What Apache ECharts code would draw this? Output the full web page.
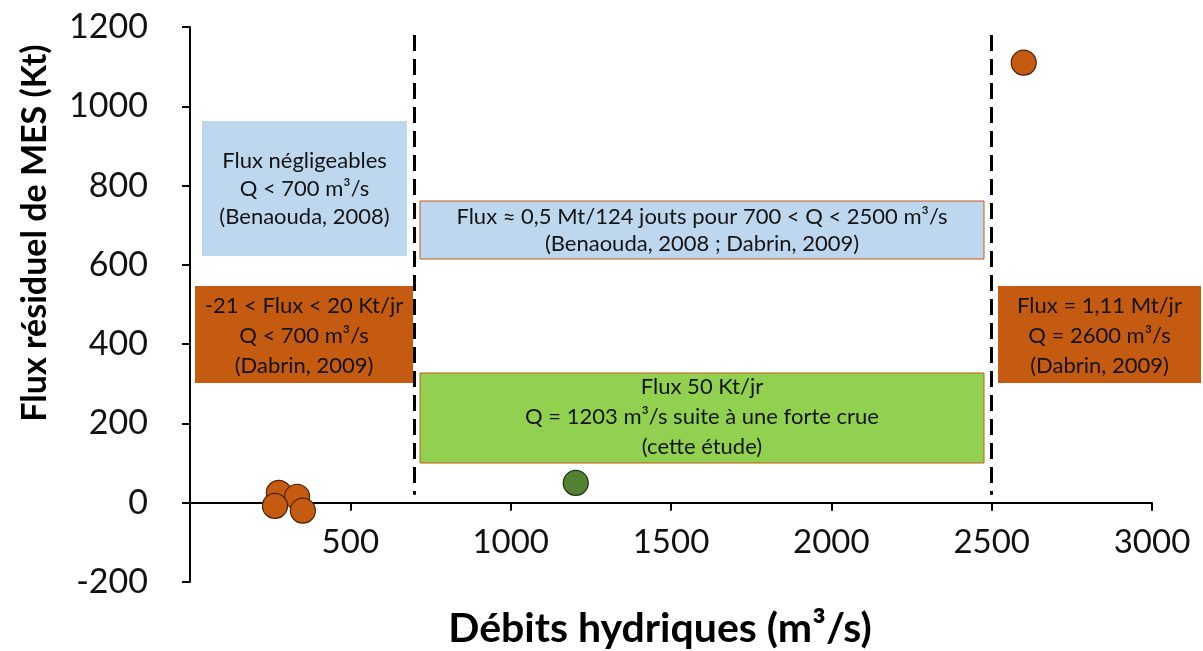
<!DOCTYPE html>
<html>
<head>
<meta charset="utf-8">
<script src="https://cdn.jsdelivr.net/npm/echarts@6/dist/echarts.min.js"></script>
<style>
	html, body { margin: 0; padding: 0; background: #fff; }
	#chart { width: 1203px; height: 651px; }
</style>
</head>
<body>
<div id="chart"></div>
<script>
// points: [débit m3/s, flux Kt]
var dabrinPoints = [[277, 25], [334, 15], [265, -8], [352, -20], [2600, 1110]]
var etudePoints = [[1203, 50]]
var thresholds = [700, 2500]
var yTicks = [-200, 0, 200, 400, 600, 800, 1000, 1200]

var FONT = 'Lato, "Open Sans", sans-serif'

function box(x, y, w, h, fill, stroke, lines, cy, lh) {
	return [
		{
			type: 'rect',
			shape: { x: x, y: y, width: w, height: h },
			style: { fill: fill, stroke: stroke || null, lineWidth: stroke ? 1 : 0 },
			z: 5,
		},
		{
			type: 'text',
			x: x + w / 2,
			y: cy,
			style: {
				text: lines.join('\n'),
				align: 'center',
				verticalAlign: 'middle',
				font: '22px ' + FONT,
				lineHeight: lh,
				fill: '#141414',
			},
			z: 6,
		},
	]
}

function drawChart() {
	var chartDom = document.getElementById('chart')
	var myChart = echarts.init(chartDom)
	var option

	var graphics = [].concat(
		box(202, 121, 205, 135, '#bdd7ee', null,
			['Flux négligeables', 'Q < 700 m³/s', '(Benaouda, 2008)'], 189, 28),
		box(195, 286, 218, 97, '#c55a11', null,
			['-21 < Flux < 20 Kt/jr', 'Q < 700 m³/s', '(Dabrin, 2009)'], 336, 30),
		box(420, 201, 564, 58, '#bdd7ee', '#c55a11',
			['Flux ≈ 0,5 Mt/124 jouts pour 700 < Q < 2500 m³/s', '(Benaouda, 2008 ; Dabrin, 2009)'], 230, 27),
		box(420, 373, 564, 90, '#92d050', '#c55a11',
			['Flux 50 Kt/jr', 'Q = 1203 m³/s suite à une forte crue', '(cette étude)'], 417, 30),
		box(998, 286, 203, 97, '#c55a11', null,
			['Flux = 1,11 Mt/jr', 'Q = 2600 m³/s', '(Dabrin, 2009)'], 336, 30),
		[
			{
				type: 'text',
				x: 35,
				y: 233,
				rotation: Math.PI / 2,
				style: {
					text: 'Flux résiduel de MES (Kt)',
					align: 'center',
					verticalAlign: 'middle',
					font: 'bold 34px ' + FONT,
					fill: '#000',
				},
			},
		]
	)

	option = {
		backgroundColor: '#fff',
		animation: false,
		grid: { left: 190, right: 51, top: 27, bottom: 69, outerBoundsMode: 'none' },
		xAxis: {
			type: 'value',
			min: 0,
			max: 3000,
			interval: 500,
			name: 'Débits hydriques (m³/s)',
			nameLocation: 'middle',
			nameGap: 26,
			nameTextStyle: {
				fontFamily: FONT,
				fontWeight: 'bold',
				fontSize: 41,
				color: '#000',
				padding: [0, 22, 0, 0],
			},
			axisLine: { onZero: true, lineStyle: { color: '#000', width: 2 } },
			axisTick: { show: true, length: 8, lineStyle: { color: '#000', width: 2 } },
			axisLabel: {
				fontFamily: FONT,
				fontSize: 33,
				color: '#111',
				margin: -56,
				formatter: function (v) { return v === 0 ? '' : String(v) },
			},
			splitLine: { show: false },
		},
		yAxis: {
			type: 'value',
			min: yTicks[0],
			max: yTicks[yTicks.length - 1],
			interval: 200,
			axisLine: { show: true, lineStyle: { color: '#000', width: 2 } },
			axisTick: { show: true, length: 8, lineStyle: { color: '#000', width: 2 } },
			axisLabel: {
				fontFamily: FONT,
				fontSize: 34,
				color: '#111',
				margin: 42,
				formatter: function (v) { return String(v) },
			},
			splitLine: { show: false },
		},
		graphic: graphics,
		series: [
			{
				name: 'seuils',
				type: 'scatter',
				data: [],
				markLine: {
					silent: true,
					symbol: 'none',
					label: { show: false },
					lineStyle: { color: '#000', width: 3, type: [16, 8] },
					data: thresholds.map(function (q) {
						return [{ coord: [q, 1180] }, { coord: [q, 20] }]
					}),
				},
			},
			{
				name: 'Dabrin',
				type: 'scatter',
				data: dabrinPoints,
				symbolSize: 25,
				itemStyle: { color: '#c55a11', opacity: 1, borderColor: '#4a2408', borderWidth: 1.2 },
				z: 10,
			},
			{
				name: 'cette étude',
				type: 'scatter',
				data: etudePoints,
				symbolSize: 25,
				itemStyle: { color: '#548235', opacity: 1, borderColor: '#1e3010', borderWidth: 1.2 },
				z: 10,
			},
		],
	}

	option && myChart.setOption(option)
}

drawChart()
</script>
</body>
</html>
